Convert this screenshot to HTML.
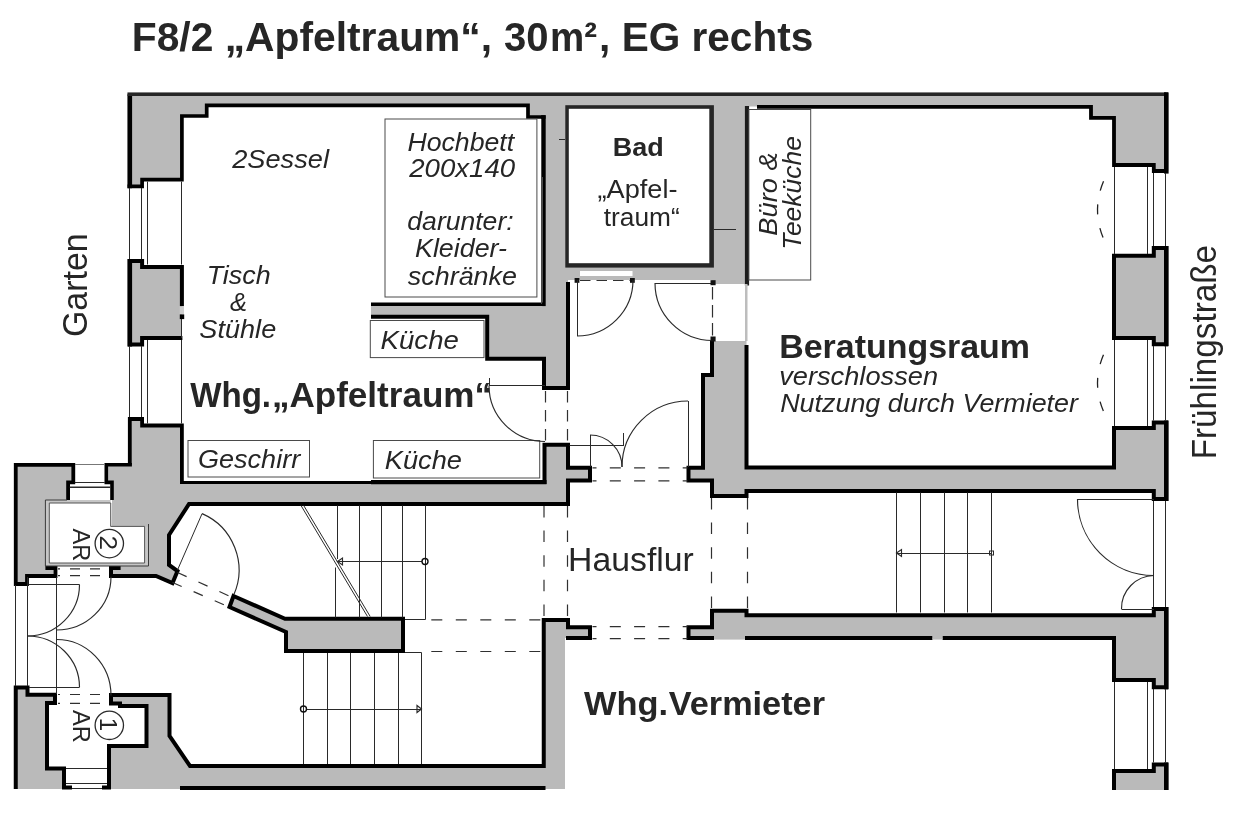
<!DOCTYPE html>
<html><head><meta charset="utf-8"><title>F8/2 Apfeltraum</title>
<style>
html,body{margin:0;padding:0;background:#fff;}
body{width:1240px;height:815px;overflow:hidden;}
svg{display:block;filter:grayscale(1);}
svg text{font-family:"Liberation Sans",sans-serif;}
</style></head><body>
<svg width="1240" height="815" viewBox="0 0 1240 815">
<rect x="0" y="0" width="1240" height="815" fill="#fff"/>
<polygon points="127.5,92.5 1168.3,92.5 1168.3,171 1153.8,171 1153.8,165 1114,165 1114,117.8 1091,117.8 1091,106.8 746.75,106.5 746.75,284 712,284 712,280 568,280 568,388 544,388 544,358.75 487.2,358.75 487.2,316.85 371,316.85 371,304.25 543,304.25 543,117 528,117 528,105.4 206.7,105.4 206.7,116 181.9,116 181.9,179.7 142.1,179.7 142.1,186.4 127.5,186.4" fill="#bababa"/>
<polygon points="712,341 746.5,341 746.5,467.5 1114,467.5 1114,428 1153.8,428 1153.8,422.5 1166.1,422.5 1166.1,499 1153.8,499 1153.8,491 746.5,491 746.5,496 712,496 712,480.5 688.5,480.5 688.5,467.5 703,467.5 703,375 712,375" fill="#bababa"/>
<polygon points="1114,255.75 1153.8,255.75 1153.8,248 1166.1,248 1166.1,344.25 1153.8,344.25 1153.8,338 1114,338" fill="#bababa"/>
<polygon points="688.5,627.25 712,627.25 712,610.75 746.5,610.75 746.5,615.3 1153.8,615.3 1153.8,609 1166.1,609 1166.1,687.25 1153.8,687.25 1153.8,680 1114,680 1114,638 688.5,638" fill="#bababa"/>
<polygon points="1114,790 1114,771 1153.8,771 1153.8,764.5 1166.1,764.5 1166.1,790" fill="#bababa"/>
<polygon points="129.8,261 142.1,261 142.1,267 181.9,267 181.9,338 142.1,338 142.1,344.5 129.8,344.5" fill="#bababa"/>
<polygon points="129.8,419 142.1,419 142.1,425.5 181.9,425.5 181.9,482.5 544.5,482.5 544.5,444.7 568,444.7 568,467.75 590,467.75 590,480.5 568,480.5 568,504 189,504 169,535 169,565 177.5,571 172.5,583 156,576 111,576 111,568 112,501 112,482.4 106.3,482.4 106.3,464.8 129.8,464.8" fill="#bababa"/>
<polygon points="15.75,464.8 73.3,464.8 73.3,482.4 68.1,482.4 68.1,501 47,501 47,568 55.5,568 55.5,576 27,576 27,584 15.75,584" fill="#bababa"/>
<polygon points="15.75,687.5 27.5,687.5 27.5,694.75 55,694.75 55,703 47,703 47,768.5 64,768.5 64,789 15.75,789" fill="#bababa"/>
<polygon points="111,695 169.5,695 169.5,736 190,766 543.75,766 543.75,620 568,620 568,627.25 590,627.25 590,638 565,638 565,789 109,789 109,746 146.5,746 146.5,706 120,706 120,703.5 111,703.5" fill="#bababa"/>
<polygon points="233.5,596 285,618.75 403,618.75 403,651 286,651 286,632 229.5,607" fill="#bababa"/>
<polyline points="129.8,188.2 129.8,94.25" fill="none" stroke="#000" stroke-width="4.6" stroke-linecap="butt" stroke-linejoin="miter"/>
<polyline points="127.5,94.25 1166.1,94.25" fill="none" stroke="#262626" stroke-width="3.7" stroke-linecap="butt" stroke-linejoin="miter"/>
<polyline points="1166.1,92.4 1166.1,171 1153.8,171 1153.8,165 1114,165 1114,117.8 1091,117.8 1091,106.8 757,106.8" fill="none" stroke="#000" stroke-width="3.8" stroke-linecap="butt" stroke-linejoin="miter"/>
<polyline points="127.5,186.4 142.1,186.4 142.1,179.7 181.9,179.7 181.9,116 206.7,116 206.7,105.4 528,105.4 528,117 545.6,117" fill="none" stroke="#000" stroke-width="3.7" stroke-linecap="butt" stroke-linejoin="miter"/>
<polyline points="543.4,115.2 543.4,177" fill="none" stroke="#000" stroke-width="4.6" stroke-linecap="butt" stroke-linejoin="miter"/>
<polyline points="544,177 544,306.1" fill="none" stroke="#000" stroke-width="3.4" stroke-linecap="butt" stroke-linejoin="miter"/>
<polyline points="545,304.25 371,304.25" fill="none" stroke="#000" stroke-width="3.7" stroke-linecap="butt" stroke-linejoin="miter"/>
<polyline points="371,316.85 487.2,316.85 487.2,358.75 544,358.75 544,388.1 568,388.1 568,282" fill="none" stroke="#000" stroke-width="4" stroke-linecap="butt" stroke-linejoin="miter"/>
<polyline points="747,106 747,285.4" fill="none" stroke="#1c1c1c" stroke-width="4.2" stroke-linecap="butt" stroke-linejoin="miter"/>
<rect x="565.3" y="105.2" width="148.60000000000002" height="162.40000000000003" fill="#262626"/>
<rect x="568.8" y="108.8" width="140.5" height="154.39999999999998" fill="#fff"/>
<polyline points="712,341 712,375 703,375 703,467.75 688.5,467.75 688.5,480.5 712,480.5 712,496 746.5,496 746.5,491 1153.8,491 1153.8,499 1166.1,499 1166.1,422.5 1153.8,422.5 1153.8,428 1114,428 1114,467.5 746.5,467.5 746.5,345" fill="none" stroke="#000" stroke-width="4" stroke-linecap="butt" stroke-linejoin="miter"/>
<polygon points="1114,255.75 1153.8,255.75 1153.8,248 1166.1,248 1166.1,344.25 1153.8,344.25 1153.8,338 1114,338" fill="none" stroke="#000" stroke-width="4" stroke-linecap="butt" stroke-linejoin="miter"/>
<polyline points="714,638 688.5,638 688.5,627.25 712,627.25 712,610.75 746.5,610.75 746.5,615.3 1153.8,615.3 1153.8,609 1166.1,609 1166.1,687.25 1153.8,687.25 1153.8,680 1114,680 1114,638 942.5,638" fill="none" stroke="#000" stroke-width="4" stroke-linecap="butt" stroke-linejoin="miter"/>
<polyline points="932.5,638 745,638" fill="none" stroke="#000" stroke-width="4" stroke-linecap="butt" stroke-linejoin="miter"/>
<rect x="714" y="636" width="31" height="3.6000000000000227" fill="#bababa" stroke="none" stroke-width="0"/>
<rect x="932.5" y="636" width="10.0" height="3.6000000000000227" fill="#bababa" stroke="none" stroke-width="0"/>
<polyline points="1166.3,92.4 1166.3,173.6" fill="none" stroke="#000" stroke-width="4.6" stroke-linecap="butt" stroke-linejoin="miter"/>
<polyline points="1166.3,246 1166.3,346.2" fill="none" stroke="#000" stroke-width="4.6" stroke-linecap="butt" stroke-linejoin="miter"/>
<polyline points="1166.3,420.5 1166.3,501" fill="none" stroke="#000" stroke-width="4.6" stroke-linecap="butt" stroke-linejoin="miter"/>
<polyline points="1166.3,607 1166.3,689.3" fill="none" stroke="#000" stroke-width="4.6" stroke-linecap="butt" stroke-linejoin="miter"/>
<polyline points="1166.3,762.5 1166.3,790" fill="none" stroke="#000" stroke-width="4.6" stroke-linecap="butt" stroke-linejoin="miter"/>
<polyline points="1114,790 1114,771 1153.8,771 1153.8,764.5 1166.1,764.5 1166.1,790" fill="none" stroke="#000" stroke-width="4" stroke-linecap="butt" stroke-linejoin="miter"/>
<polyline points="181.9,306.3 181.9,267 142.1,267 142.1,261 129.8,261 129.8,344.5 142.1,344.5 142.1,338 182.4,338" fill="none" stroke="#000" stroke-width="4" stroke-linecap="butt" stroke-linejoin="miter"/>
<polyline points="129.8,259 129.8,346.5" fill="none" stroke="#000" stroke-width="4.6" stroke-linecap="butt" stroke-linejoin="miter"/>
<rect x="179.8" y="306.3" width="4.199999999999989" height="8.099999999999966" fill="#cfcfcf" stroke="none" stroke-width="0"/>
<rect x="179.8" y="314.4" width="4.399999999999977" height="4.7000000000000455" fill="#000" stroke="none" stroke-width="0"/>
<polyline points="181.5,319 181.5,338" fill="none" stroke="#2a2a2a" stroke-width="1"/>
<polyline points="129.8,464.8 129.8,419 142.1,419 142.1,425.5 181.9,425.5 181.9,484.1" fill="none" stroke="#000" stroke-width="3.8" stroke-linecap="butt" stroke-linejoin="miter"/>
<polyline points="180,482.6 372,482.6" fill="none" stroke="#000" stroke-width="3" stroke-linecap="butt" stroke-linejoin="miter"/>
<polyline points="371,482.1 546.5,482.1" fill="none" stroke="#000" stroke-width="4.1" stroke-linecap="butt" stroke-linejoin="miter"/>
<polyline points="544.5,484 544.5,444.7 568,444.7 568,467.75 590,467.75 590,480.5 568,480.5 568,504 189,504 169,535 169,565 177.5,571 172.5,583 156,576 111,576 111,568 120.6,568" fill="none" stroke="#000" stroke-width="4" stroke-linecap="butt" stroke-linejoin="miter"/>
<polyline points="112,500 112,482.4 106.3,482.4 106.3,464.8 131.9,464.8" fill="none" stroke="#000" stroke-width="3.6" stroke-linecap="butt" stroke-linejoin="miter"/>
<polyline points="68.1,500 68.1,482.4 73.3,482.4 73.3,464.8 15.75,464.8 15.75,584 27,584 27,576 55.5,576 55.5,568 45.4,568" fill="none" stroke="#000" stroke-width="3.8" stroke-linecap="butt" stroke-linejoin="miter"/>
<polyline points="15.75,789 15.75,687.5 27.5,687.5 27.5,694.75 55,694.75 55,703 47,703 47,768.5 64,768.5 64,787.5 72,787.5" fill="none" stroke="#000" stroke-width="4" stroke-linecap="butt" stroke-linejoin="miter"/>
<polyline points="102,787.5 109,787.5 109,746 146.5,746 146.5,706 120,706 120,703.5 111,703.5 111,695 169.5,695 169.5,736 190,766 543.75,766 543.75,620 568,620 568,627.25 590,627.25 590,638 566,638" fill="none" stroke="#000" stroke-width="4" stroke-linecap="butt" stroke-linejoin="miter"/>
<polyline points="180,788 545.5,788" fill="none" stroke="#000" stroke-width="4" stroke-linecap="butt" stroke-linejoin="miter"/>
<polygon points="233.5,596 285,618.75 403,618.75 403,651 286,651 286,632 229.5,607" fill="none" stroke="#000" stroke-width="4" stroke-linecap="butt" stroke-linejoin="miter"/>
<polygon points="45.4,500 110.7,500 110.7,526.4 148.5,526.4 148.5,566 45.4,566" fill="#c6c6c6"/>
<polyline points="67,500 45.4,500 45.4,566 148.5,566 148.5,524" fill="none" stroke="#3a3a3a" stroke-width="1"/>
<polygon points="49.3,503 110.7,503 110.7,526.4 144.6,526.4 144.6,563 49.3,563" fill="#fff" stroke="#555" stroke-width="1"/>
<polyline points="129.5,188 129.5,259" fill="none" stroke="#2a2a2a" stroke-width="1"/>
<polyline points="141.5,188 141.5,259" fill="none" stroke="#2a2a2a" stroke-width="1"/>
<polyline points="147.5,181.5 147.5,264.5" fill="none" stroke="#2a2a2a" stroke-width="1"/>
<polyline points="181.5,181.5 181.5,264.5" fill="none" stroke="#2a2a2a" stroke-width="1"/>
<polyline points="129.5,346 129.5,417" fill="none" stroke="#2a2a2a" stroke-width="1"/>
<polyline points="141.5,346 141.5,417" fill="none" stroke="#2a2a2a" stroke-width="1"/>
<polyline points="147.5,340 147.5,423.5" fill="none" stroke="#2a2a2a" stroke-width="1"/>
<polyline points="181.5,340 181.5,423.5" fill="none" stroke="#2a2a2a" stroke-width="1"/>
<polyline points="1114.5,167 1114.5,254" fill="none" stroke="#2a2a2a" stroke-width="1"/>
<polyline points="1147.5,167 1147.5,254" fill="none" stroke="#2a2a2a" stroke-width="1"/>
<polyline points="1153.5,173 1153.5,246" fill="none" stroke="#2a2a2a" stroke-width="1"/>
<polyline points="1165.5,173 1165.5,246" fill="none" stroke="#2a2a2a" stroke-width="1"/>
<polyline points="1114.5,340 1114.5,426" fill="none" stroke="#2a2a2a" stroke-width="1"/>
<polyline points="1147.5,340 1147.5,426" fill="none" stroke="#2a2a2a" stroke-width="1"/>
<polyline points="1153.5,346 1153.5,420.5" fill="none" stroke="#2a2a2a" stroke-width="1"/>
<polyline points="1165.5,346 1165.5,420.5" fill="none" stroke="#2a2a2a" stroke-width="1"/>
<polyline points="1114.5,682 1114.5,769" fill="none" stroke="#2a2a2a" stroke-width="1"/>
<polyline points="1147.5,682 1147.5,769" fill="none" stroke="#2a2a2a" stroke-width="1"/>
<polyline points="1153.5,689 1153.5,762.5" fill="none" stroke="#2a2a2a" stroke-width="1"/>
<polyline points="1165.5,689 1165.5,762.5" fill="none" stroke="#2a2a2a" stroke-width="1"/>
<polyline points="1153.5,501 1153.5,607" fill="none" stroke="#2a2a2a" stroke-width="1"/>
<polyline points="1165.5,501 1165.5,607" fill="none" stroke="#2a2a2a" stroke-width="1"/>
<path d="M1111,167 Q1084,210.0 1111,253" fill="none" stroke="#222" stroke-width="1.3" stroke-dasharray="0 16 10 14 10 14 10 100"/>
<path d="M1111,340.5 Q1084,383.0 1111,425.5" fill="none" stroke="#222" stroke-width="1.3" stroke-dasharray="0 16 10 14 10 14 10 100"/>
<rect x="385" y="119" width="151.89999999999998" height="178" fill="none" stroke="#4a4a4a" stroke-width="1"/>
<polyline points="541.5,119 541.5,304" fill="none" stroke="#4a4a4a" stroke-width="1"/>
<rect x="370.3" y="320.5" width="113.69999999999999" height="37.10000000000002" fill="none" stroke="#4a4a4a" stroke-width="1"/>
<rect x="188" y="440.5" width="121.5" height="36.5" fill="none" stroke="#4a4a4a" stroke-width="1"/>
<rect x="373.4" y="440.5" width="166.30000000000007" height="37.5" fill="none" stroke="#4a4a4a" stroke-width="1"/>
<rect x="748.8" y="109.5" width="61.90000000000009" height="170.5" fill="none" stroke="#4a4a4a" stroke-width="1"/>
<polyline points="559,139.5 565,139.5" fill="none" stroke="#2a2a2a" stroke-width="1"/>
<polyline points="714,229.5 736,229.5" fill="none" stroke="#2a2a2a" stroke-width="1"/>
<polyline points="489,385.5 545,385.5" fill="none" stroke="#2a2a2a" stroke-width="1"/>
<polyline points="489.5,378 489.5,385.5" fill="none" stroke="#2a2a2a" stroke-width="1"/>
<path d="M489,385.5 A56,56 0 0 0 545,441.5" fill="none" stroke="#2a2a2a" stroke-width="1.15"/>
<polyline points="545.5,391 545.5,441.5" fill="none" stroke="#303030" stroke-width="1.2" stroke-dasharray="11.5 7.5" stroke-dashoffset="0"/>
<polyline points="567.5,391 567.5,441.5" fill="none" stroke="#303030" stroke-width="1.2" stroke-dasharray="11.5 7.5" stroke-dashoffset="0"/>
<rect x="580" y="271" width="52.5" height="5" fill="#fff" stroke="none" stroke-width="0"/>
<polyline points="580,280.5 631,280.5" fill="none" stroke="#303030" stroke-width="1.2" stroke-dasharray="10.5 6"/>
<rect x="574.6" y="278" width="4.7999999999999545" height="4.800000000000011" fill="#111" stroke="none" stroke-width="0"/>
<rect x="630" y="278" width="4.7999999999999545" height="4.800000000000011" fill="#111" stroke="none" stroke-width="0"/>
<polyline points="577.5,280 577.5,336" fill="none" stroke="#2a2a2a" stroke-width="1"/>
<path d="M577,336 A56,56 0 0 0 633,280" fill="none" stroke="#2a2a2a" stroke-width="1.15"/>
<polyline points="655,283.5 712.5,283.5" fill="none" stroke="#2a2a2a" stroke-width="1"/>
<path d="M655,283 A57.5,57.5 0 0 0 712.5,340.5" fill="none" stroke="#2a2a2a" stroke-width="1.15"/>
<rect x="710.5" y="280.2" width="5.100000000000023" height="5.0" fill="#111" stroke="none" stroke-width="0"/>
<rect x="710.5" y="336.5" width="5.100000000000023" height="5.0" fill="#111" stroke="none" stroke-width="0"/>
<polyline points="712.5,287 712.5,337" fill="none" stroke="#303030" stroke-width="1.2" stroke-dasharray="12.5 5.5"/>
<polyline points="746.25,284 746.25,341" fill="none" stroke="#bdbdbd" stroke-width="2.5"/>
<polyline points="569.5,445.5 624,445.5" fill="none" stroke="#2a2a2a" stroke-width="1"/>
<polyline points="623.5,433 623.5,445" fill="none" stroke="#2a2a2a" stroke-width="1"/>
<polyline points="590.5,435 590.5,467" fill="none" stroke="#2a2a2a" stroke-width="1"/>
<path d="M590,435 A32,32 0 0 1 622,467" fill="none" stroke="#2a2a2a" stroke-width="1.15"/>
<polyline points="688.5,401 688.5,467" fill="none" stroke="#2a2a2a" stroke-width="1"/>
<path d="M688,401 A66,66 0 0 0 622,467" fill="none" stroke="#2a2a2a" stroke-width="1.15"/>
<polyline points="592.5,467.8 687.5,467.8" fill="none" stroke="#303030" stroke-width="1.2" stroke-dasharray="11 13.3" stroke-dashoffset="7"/>
<polyline points="592.5,480.9 687.5,480.9" fill="none" stroke="#303030" stroke-width="1.2" stroke-dasharray="11 13.3" stroke-dashoffset="7"/>
<polyline points="592.5,626.7 687.5,626.7" fill="none" stroke="#303030" stroke-width="1.2" stroke-dasharray="11 13.3" stroke-dashoffset="7"/>
<polyline points="592.5,638.7 687.5,638.7" fill="none" stroke="#303030" stroke-width="1.2" stroke-dasharray="11 13.3" stroke-dashoffset="7"/>
<polyline points="544,506 544,618" fill="none" stroke="#303030" stroke-width="1.2" stroke-dasharray="11.5 13.1" stroke-dashoffset="0"/>
<polyline points="567.5,506 567.5,618" fill="none" stroke="#303030" stroke-width="1.2" stroke-dasharray="11.5 13.1" stroke-dashoffset="0"/>
<polyline points="711.5,498 711.5,609" fill="none" stroke="#303030" stroke-width="1.2" stroke-dasharray="11.5 13.1" stroke-dashoffset="0"/>
<polyline points="747.5,498 747.5,609" fill="none" stroke="#303030" stroke-width="1.2" stroke-dasharray="11.5 13.1" stroke-dashoffset="0"/>
<polyline points="431.3,619.9 543,619.9" fill="none" stroke="#303030" stroke-width="1.2" stroke-dasharray="11 13.5" stroke-dashoffset="0"/>
<polyline points="431.3,651.5 543,651.5" fill="none" stroke="#303030" stroke-width="1.2" stroke-dasharray="11 13.5" stroke-dashoffset="0"/>
<polyline points="177.5,570 202.1,513.6" fill="none" stroke="#2a2a2a" stroke-width="1"/>
<path d="M202.1,513.6 A61.5,61.5 0 0 1 233.9,594.5" fill="none" stroke="#2a2a2a" stroke-width="1.15"/>
<polyline points="177.5,572.5 232.5,597.5" fill="none" stroke="#303030" stroke-width="1.2" stroke-dasharray="10 13"/>
<polyline points="172.5,582.5 229,607" fill="none" stroke="#303030" stroke-width="1.2" stroke-dasharray="10 13"/>
<polyline points="15.5,585 15.5,686" fill="none" stroke="#2a2a2a" stroke-width="1"/>
<polyline points="27.5,577 27.5,686" fill="none" stroke="#2a2a2a" stroke-width="1"/>
<polyline points="56.5,577 56.5,694" fill="none" stroke="#2a2a2a" stroke-width="1"/>
<polyline points="29,584.5 79.5,584.5" fill="none" stroke="#2a2a2a" stroke-width="1"/>
<path d="M79.5,584.5 A52,51.5 0 0 1 27.5,636" fill="none" stroke="#2a2a2a" stroke-width="1.15"/>
<path d="M111,576.7 A54.4,53.3 0 0 1 56.6,630" fill="none" stroke="#2a2a2a" stroke-width="1.15"/>
<path d="M27.5,636 A52,51.3 0 0 1 79.5,687.3" fill="none" stroke="#2a2a2a" stroke-width="1.15"/>
<polyline points="29,687.5 79.5,687.5" fill="none" stroke="#2a2a2a" stroke-width="1"/>
<path d="M56.6,639.5 A54.4,56 0 0 1 111,695.5" fill="none" stroke="#2a2a2a" stroke-width="1.15"/>
<polyline points="58,568.8 109,568.8" fill="none" stroke="#303030" stroke-width="1.2" stroke-dasharray="10 10" stroke-dashoffset="8"/>
<polyline points="58,575.7 109,575.7" fill="none" stroke="#303030" stroke-width="1.2" stroke-dasharray="10 10" stroke-dashoffset="8"/>
<polyline points="58,694.5 109,694.5" fill="none" stroke="#303030" stroke-width="1.2" stroke-dasharray="10 10" stroke-dashoffset="8"/>
<polyline points="58,703.4 109,703.4" fill="none" stroke="#303030" stroke-width="1.2" stroke-dasharray="10 10" stroke-dashoffset="8"/>
<polyline points="75,464.5 104.5,464.5" fill="none" stroke="#777" stroke-width="1"/>
<polyline points="74.8,482.5 104.8,482.5" fill="none" stroke="#2a2a2a" stroke-width="1"/>
<polyline points="69.7,487.3 110.3,487.3" fill="none" stroke="#2a2a2a" stroke-width="1.6"/>
<polyline points="66,768.5 107,768.5" fill="none" stroke="#2a2a2a" stroke-width="1"/>
<polyline points="66,783.5 107,783.5" fill="none" stroke="#2a2a2a" stroke-width="1"/>
<polyline points="72,788.5 102,788.5" fill="none" stroke="#2a2a2a" stroke-width="1"/>
<polyline points="337.5,505.5 337.5,559" fill="none" stroke="#2a2a2a" stroke-width="1"/>
<polyline points="335.5,567.5 335.5,617.5" fill="none" stroke="#2a2a2a" stroke-width="1"/>
<polyline points="359.5,505.5 359.5,617.5" fill="none" stroke="#2a2a2a" stroke-width="1"/>
<polyline points="381.5,505.5 381.5,617.5" fill="none" stroke="#2a2a2a" stroke-width="1"/>
<polyline points="402.5,505.5 402.5,617.5" fill="none" stroke="#2a2a2a" stroke-width="1"/>
<polyline points="425.5,505.5 425.5,619.5 405,619.5" fill="none" stroke="#2a2a2a" stroke-width="1"/>
<polyline points="337.5,561.5 422,561.5" fill="none" stroke="#2a2a2a" stroke-width="1"/>
<path d="M337.5,561.5 L342.5,558 L342.5,565 Z" fill="none" stroke="#2a2a2a" stroke-width="1.15"/>
<circle cx="425" cy="561.5" r="3" fill="none" stroke="#111" stroke-width="1.4"/>
<polyline points="301,505.5 367.5,616.5" fill="none" stroke="#2a2a2a" stroke-width="1"/>
<polyline points="303.7,505.5 370.2,616.5" fill="none" stroke="#2a2a2a" stroke-width="1"/>
<polyline points="303.5,653 303.5,764" fill="none" stroke="#2a2a2a" stroke-width="1"/>
<polyline points="327.5,653 327.5,764" fill="none" stroke="#2a2a2a" stroke-width="1"/>
<polyline points="350.5,653 350.5,764" fill="none" stroke="#2a2a2a" stroke-width="1"/>
<polyline points="374.5,653 374.5,764" fill="none" stroke="#2a2a2a" stroke-width="1"/>
<polyline points="398.5,653 398.5,764" fill="none" stroke="#2a2a2a" stroke-width="1"/>
<polyline points="405,652.5 421.5,652.5 421.5,764" fill="none" stroke="#2a2a2a" stroke-width="1"/>
<polyline points="306.5,709.5 421.5,709.5" fill="none" stroke="#2a2a2a" stroke-width="1"/>
<path d="M421.5,709 L417,705.5 L417,712.5 Z" fill="none" stroke="#2a2a2a" stroke-width="1.15"/>
<circle cx="303.5" cy="709" r="3" fill="none" stroke="#111" stroke-width="1.4"/>
<polyline points="896.5,492.5 896.5,612.5" fill="none" stroke="#2a2a2a" stroke-width="1"/>
<polyline points="920.5,492.5 920.5,612.5" fill="none" stroke="#2a2a2a" stroke-width="1"/>
<polyline points="944.5,492.5 944.5,612.5" fill="none" stroke="#2a2a2a" stroke-width="1"/>
<polyline points="967.5,492.5 967.5,612.5" fill="none" stroke="#2a2a2a" stroke-width="1"/>
<polyline points="991.5,492.5 991.5,612.5" fill="none" stroke="#2a2a2a" stroke-width="1"/>
<polyline points="896.6,553.5 991.5,553.5" fill="none" stroke="#2a2a2a" stroke-width="1"/>
<path d="M896.5,553 L901.5,549.5 L901.5,556.5 Z" fill="none" stroke="#2a2a2a" stroke-width="1.15"/>
<rect x="989.5" y="551" width="4.0" height="4" fill="none" stroke="#2a2a2a" stroke-width="1"/>
<polyline points="1077.5,499.5 1154,499.5" fill="none" stroke="#2a2a2a" stroke-width="1"/>
<path d="M1077.5,499 A76.5,76.5 0 0 0 1154,575.5" fill="none" stroke="#2a2a2a" stroke-width="1.15"/>
<path d="M1154,575.5 A33,33 0 0 0 1121.5,609" fill="none" stroke="#2a2a2a" stroke-width="1.15"/>
<polyline points="1121.5,609.5 1154,609.5" fill="none" stroke="#2a2a2a" stroke-width="1"/>
<circle cx="109.3" cy="543.6" r="14.2" fill="none" stroke="#2a2a2a" stroke-width="1.3"/>
<circle cx="109.3" cy="725.3" r="14.2" fill="none" stroke="#2a2a2a" stroke-width="1.3"/>
<text x="131.77" y="51.00" font-size="40" font-weight="bold" font-style="normal" fill="#262626" textLength="360.29" lengthAdjust="spacingAndGlyphs">F8/2 „Apfeltraum“,</text>
<text x="503.95" y="51.00" font-size="40" font-weight="bold" font-style="normal" fill="#262626" textLength="44.53" lengthAdjust="spacingAndGlyphs">30</text>
<text x="550.02" y="51.00" font-size="40" font-weight="bold" font-style="normal" fill="#262626" textLength="47.02" lengthAdjust="spacingAndGlyphs">m²</text>
<text x="599.13" y="51.00" font-size="40" font-weight="bold" font-style="normal" fill="#262626" textLength="214.10" lengthAdjust="spacingAndGlyphs">, EG rechts</text>
<text x="87.50" y="337.05" font-size="34.5" font-weight="normal" font-style="normal" fill="#262626" transform="rotate(-90 87.5 337.05)" textLength="103.72" lengthAdjust="spacingAndGlyphs">Garten</text>
<text x="1215.70" y="459.25" font-size="34.5" font-weight="normal" font-style="normal" fill="#262626" transform="rotate(-90 1215.7 459.25)" textLength="214.29" lengthAdjust="spacingAndGlyphs">Frühlingstraße</text>
<text x="232.20" y="167.50" font-size="26.5" font-weight="normal" font-style="italic" fill="#262626" textLength="96.81" lengthAdjust="spacingAndGlyphs">2Sessel</text>
<text x="206.67" y="284.40" font-size="26.5" font-weight="normal" font-style="italic" fill="#262626" textLength="64.00" lengthAdjust="spacingAndGlyphs">Tisch</text>
<text x="230.00" y="311.10" font-size="26.5" font-weight="normal" font-style="italic" fill="#262626" textLength="17.07" lengthAdjust="spacingAndGlyphs">&amp;</text>
<text x="199.37" y="338.20" font-size="26.5" font-weight="normal" font-style="italic" fill="#262626" textLength="76.85" lengthAdjust="spacingAndGlyphs">Stühle</text>
<text x="407.40" y="150.90" font-size="26.5" font-weight="normal" font-style="italic" fill="#262626" textLength="106.80" lengthAdjust="spacingAndGlyphs">Hochbett</text>
<text x="409.20" y="177.40" font-size="26.5" font-weight="normal" font-style="italic" fill="#262626" textLength="106.00" lengthAdjust="spacingAndGlyphs">200x140</text>
<text x="407.37" y="230.40" font-size="26.5" font-weight="normal" font-style="italic" fill="#262626" textLength="106.25" lengthAdjust="spacingAndGlyphs">darunter:</text>
<text x="414.98" y="257.00" font-size="26.5" font-weight="normal" font-style="italic" fill="#262626" textLength="92.05" lengthAdjust="spacingAndGlyphs">Kleider-</text>
<text x="407.80" y="284.60" font-size="26.5" font-weight="normal" font-style="italic" fill="#262626" textLength="109.21" lengthAdjust="spacingAndGlyphs">schränke</text>
<text x="380.58" y="349.20" font-size="26.5" font-weight="normal" font-style="italic" fill="#262626" textLength="78.26" lengthAdjust="spacingAndGlyphs">Küche</text>
<text x="384.78" y="469.20" font-size="26.5" font-weight="normal" font-style="italic" fill="#262626" textLength="77.24" lengthAdjust="spacingAndGlyphs">Küche</text>
<text x="198.01" y="468.40" font-size="26.5" font-weight="normal" font-style="italic" fill="#262626" textLength="102.20" lengthAdjust="spacingAndGlyphs">Geschirr</text>
<text x="190.19" y="407.40" font-size="34.3" font-weight="bold" font-style="normal" fill="#262626" textLength="80.88" lengthAdjust="spacingAndGlyphs">Whg.</text>
<text x="271.92" y="407.40" font-size="34.3" font-weight="bold" font-style="normal" fill="#262626" textLength="220.15" lengthAdjust="spacingAndGlyphs">„Apfeltraum“</text>
<text x="612.89" y="155.80" font-size="25.8" font-weight="bold" font-style="normal" fill="#262626" textLength="50.99" lengthAdjust="spacingAndGlyphs">Bad</text>
<text x="597.57" y="197.70" font-size="26" font-weight="normal" font-style="normal" fill="#262626" textLength="79.88" lengthAdjust="spacingAndGlyphs">„Apfel-</text>
<text x="603.79" y="225.70" font-size="26" font-weight="normal" font-style="normal" fill="#262626" textLength="76.03" lengthAdjust="spacingAndGlyphs">traum“</text>
<text x="776.80" y="235.63" font-size="26" font-weight="normal" font-style="italic" fill="#262626" transform="rotate(-90 776.8 235.63)" textLength="83.47" lengthAdjust="spacingAndGlyphs">Büro &amp;</text>
<text x="800.80" y="249.87" font-size="26" font-weight="normal" font-style="italic" fill="#262626" transform="rotate(-90 800.8 249.87)" textLength="113.91" lengthAdjust="spacingAndGlyphs">Teeküche</text>
<text x="779.17" y="358.20" font-size="34" font-weight="bold" font-style="normal" fill="#262626" textLength="250.86" lengthAdjust="spacingAndGlyphs">Beratungsraum</text>
<text x="779.17" y="385.00" font-size="26" font-weight="normal" font-style="italic" fill="#262626" textLength="158.86" lengthAdjust="spacingAndGlyphs">verschlossen</text>
<text x="780.20" y="411.70" font-size="26" font-weight="normal" font-style="italic" fill="#262626" textLength="297.80" lengthAdjust="spacingAndGlyphs">Nutzung durch Vermieter</text>
<text x="568.14" y="571.20" font-size="33.6" font-weight="normal" font-style="normal" fill="#262626" textLength="125.68" lengthAdjust="spacingAndGlyphs">Hausflur</text>
<text x="583.97" y="715.30" font-size="34" font-weight="bold" font-style="normal" fill="#262626" textLength="84.13" lengthAdjust="spacingAndGlyphs">Whg.</text>
<text x="668.79" y="715.30" font-size="34" font-weight="bold" font-style="normal" fill="#262626" textLength="156.21" lengthAdjust="spacingAndGlyphs">Vermieter</text>
<text x="73.40" y="528.59" font-size="23" font-weight="normal" font-style="normal" fill="#262626" transform="rotate(90 73.4 528.59)" textLength="32.67" lengthAdjust="spacingAndGlyphs">AR</text>
<text x="73.40" y="709.95" font-size="23" font-weight="normal" font-style="normal" fill="#262626" transform="rotate(90 73.4 709.95)" textLength="32.74" lengthAdjust="spacingAndGlyphs">AR</text>
<text x="100.10" y="535.56" font-size="24.5" font-weight="normal" font-style="normal" fill="#262626" transform="rotate(90 100.1 535.56)" textLength="14.69" lengthAdjust="spacingAndGlyphs">2</text>
<text x="100.10" y="717.67" font-size="24.5" font-weight="normal" font-style="normal" fill="#262626" transform="rotate(90 100.1 717.67)" textLength="13.44" lengthAdjust="spacingAndGlyphs">1</text>
</svg>
</body></html>
